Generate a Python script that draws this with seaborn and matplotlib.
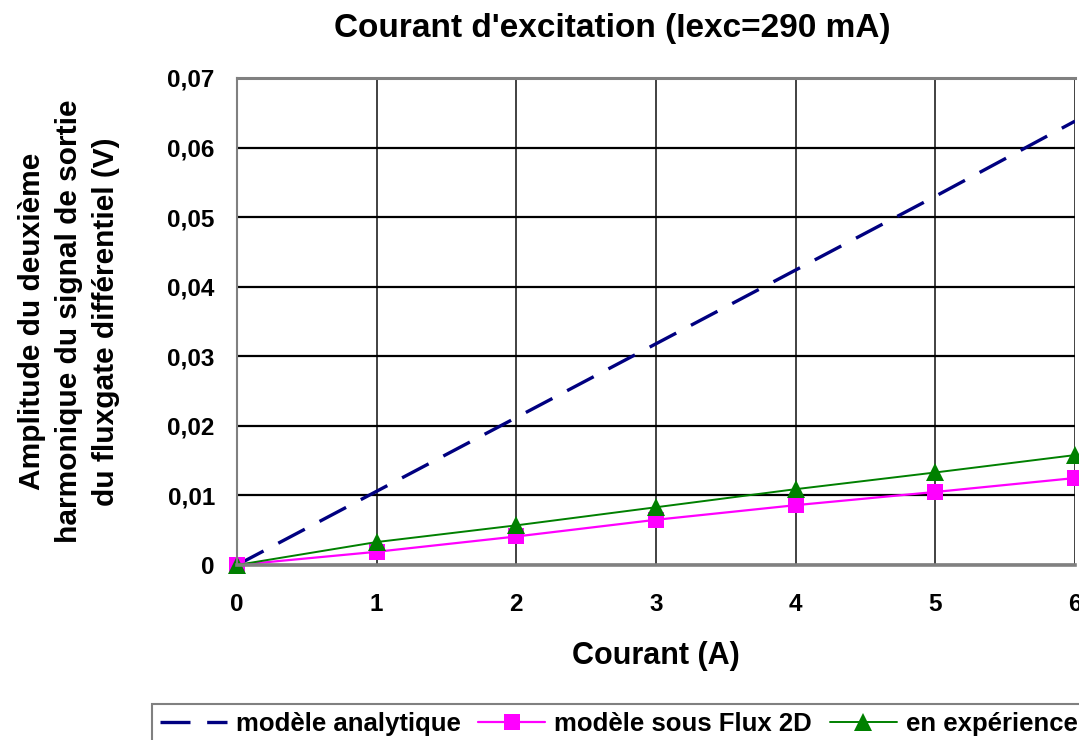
import matplotlib
matplotlib.use("Agg")
import matplotlib.pyplot as plt
import seaborn as sns
import pandas as pd
from matplotlib.ticker import FuncFormatter, MultipleLocator

courant = [0, 1, 2, 3, 4, 5, 6]
analytique = [0.0, 0.0106, 0.0212, 0.0318, 0.0424, 0.0530, 0.0638]
flux2d = [0.0, 0.0019, 0.0041, 0.0065, 0.0086, 0.0105, 0.0125]
experience = [0.0, 0.0033, 0.0057, 0.0083, 0.0109, 0.0133, 0.0158]

labels = ["modèle analytique", "modèle sous Flux 2D", "en expérience"]
title = "Courant d'excitation (Iexc=290 mA)"
xlabel = "Courant (A)"
ylabel = "Amplitude du deuxième\nharmonique du signal de sortie\ndu fluxgate différentiel (V)"

sns.set_style("white")
plt.rcParams['font.family'] = ['Liberation Sans', 'DejaVu Sans']
plt.rcParams['font.weight'] = 'bold'
plt.rcParams['text.color'] = 'black'
plt.rcParams['axes.labelcolor'] = 'black'
plt.rcParams['xtick.color'] = 'black'
plt.rcParams['ytick.color'] = 'black'

fig = plt.figure(figsize=(10.79, 7.40), dpi=100)
ax = fig.add_axes([237/1079, 1 - 565/740, (1075-237)/1079, (565-78)/740])

df = pd.DataFrame({"x": courant, "a": analytique, "f": flux2d, "e": experience})

sns.lineplot(data=df, x="x", y="a", ax=ax, color="#000080", linewidth=2.4,
             label=labels[0])
ax.lines[-1].set_dashes([9, 5])
sns.lineplot(data=df, x="x", y="f", ax=ax, color="#ff00ff", linewidth=1.6,
             marker="s", markersize=11, markeredgewidth=0, label=labels[1])
sns.lineplot(data=df, x="x", y="e", ax=ax, color="#008000", linewidth=1.4,
             marker="^", markersize=13, markeredgewidth=0, label=labels[2])
for ln in ax.lines[1:]:
    ln.set_clip_on(False)

ax.set_xlim(0, 6)
ax.set_ylim(0, 0.07)
ax.xaxis.set_major_locator(MultipleLocator(1))
ax.yaxis.set_major_locator(MultipleLocator(0.01))

def fmt(v, pos):
    if abs(v) < 1e-9:
        return "0"
    return ("%.2f" % v).replace(".", ",")

ax.yaxis.set_major_formatter(FuncFormatter(fmt))
ax.grid(True, axis="y", color="black", linewidth=1.6)
ax.grid(True, axis="x", color="#333333", linewidth=1.3)
ax.set_axisbelow(True)

for s in ["left", "bottom", "top"]:
    ax.spines[s].set_color("#808080")
ax.spines["left"].set_linewidth(1.5)
ax.spines["top"].set_linewidth(2.2)
ax.spines["bottom"].set_linewidth(2.6)
ax.spines["right"].set_visible(False)

ax.tick_params(axis="both", which="major", direction="out", length=7, width=1.3,
               color="#404040", labelsize=17.5)
ax.tick_params(axis="x", pad=13)
ax.tick_params(axis="y", pad=9)
for t in ax.get_xticklabels() + ax.get_yticklabels():
    t.set_fontweight("bold")

fig.suptitle(title, x=612/1079, y=1 - 29/740, va="center", ha="center",
             fontsize=24, fontweight="bold")
ax.set_xlabel(xlabel, fontsize=22, fontweight="bold", labelpad=18)
ax.set_ylabel(ylabel, fontsize=21.5, fontweight="bold", labelpad=34, linespacing=1.42)

handles, _ = ax.get_legend_handles_labels()
if ax.legend_:
    ax.legend_.remove()
leg = fig.legend(handles, labels, ncol=3, loc="upper left",
                 bbox_to_anchor=(152/1079, 1 - 704/740), frameon=True, fancybox=False,
                 edgecolor="#606060", fontsize=18.5, handlelength=2.6,
                 columnspacing=0.7, handletextpad=0.35, borderpad=0.3,
                 borderaxespad=0)
leg.get_frame().set_linewidth(1.5)
for t in leg.get_texts():
    t.set_fontweight("bold")

fig.savefig("out.png", dpi=100)
